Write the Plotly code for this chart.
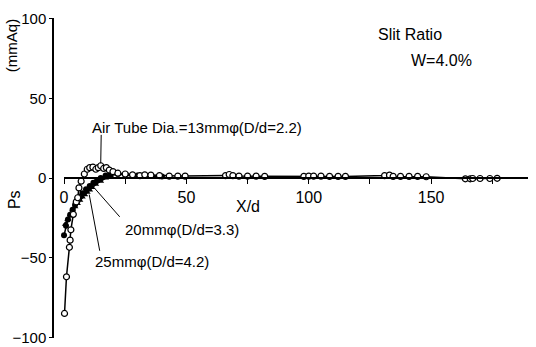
import plotly.graph_objects as go

# --- data ---
x13 = [0.2, 1.0, 2.2, 2.5, 2.8, 3.8, 5.0, 5.6, 6.1, 7.0, 8.3, 9.5, 10.5, 11.8, 13.0,
       14.0, 15.0, 16.2, 17.3, 18.5, 20.0, 22.0, 25.0, 28.0, 31.0, 33.0, 35.5, 39.0,
       43.0, 46.5, 49.5, 66.0, 67.5, 69.0, 71.5, 75.0, 78.5, 82.0, 98.0, 100.0, 102.0,
       105.0, 108.5, 112.0, 115.0, 131.0, 133.0, 134.5, 137.5, 141.0, 144.5, 148.0,
       164.0, 166.0, 167.0, 170.0, 174.0, 177.0]
y13 = [-85, -62, -43.5, -39, -32.5, -22.8, -15, -12.4, -6.2, -2, 2.5, 5.5, 6.5, 6.8, 5.5,
       6.5, 7.7, 6, 6.5, 5, 4, 3, 2.5, 2, 1.5, 2, 1.8, 1.5, 1.2, 1.2,
       1.2, 1.5, 2.2, 1.5, 1.2, 1.2, 1.2, 1, 1, 1.2, 1.2, 1.2, 1, 1, 1,
       1.5, 1.8, 1, 1, 1, 1, 0.8, -0.5, -0.5, -0.3, -0.3, -0.3, -0.2]

x20 = [0, 0.8, 1.6, 2.5, 3.5, 4.5, 5.5, 6.5, 7.5, 9, 10.5, 12, 13.5, 15, 17, 19, 22, 25, 30, 35, 40]
y20 = [-36, -30, -26, -23, -20, -17, -14.5, -12, -9.5, -7, -5, -3, -1.5, 0, 1.5, 2.5, 2.5, 2, 1.5, 1.2, 1]

x25 = [0.5, 1.5, 2.5, 3.5, 4.5, 5.5, 6.5, 7.5, 8.5, 9.5, 10.5, 11.5, 13, 15, 17, 19, 22, 26, 30, 35, 40]
y25 = [-29, -26, -23, -20, -18, -16, -14, -12, -10.5, -9, -7.5, -6, -4, -2, 0, 1.5, 2.5, 2, 1.5, 1.2, 1]

x_ticks = [0, 25, 50, 75, 100, 125, 150, 175]
x_ticklabels = ["0", "", "50", "", "100", "", "150", ""]
y_ticks = [100, 50, 0, -50, -100]
y_ticklabels = ["100", "50", "0", "\u221250", "\u2212100"]

FONT = "Liberation Sans, Arial, sans-serif"
PLOT_H = 347 - 18 - 9

fig = go.Figure()
fig.add_trace(go.Scatter(x=x25, y=y25, mode="lines+markers", cliponaxis=False,
                         line=dict(color="black", width=1.5),
                         marker=dict(symbol="triangle-up", size=6, color="black"),
                         name="25mm"))
fig.add_trace(go.Scatter(x=x20, y=y20, mode="lines+markers", cliponaxis=False,
                         line=dict(color="black", width=1.5),
                         marker=dict(symbol="circle", size=6, color="black"),
                         name="20mm"))
fig.add_trace(go.Scatter(x=x13, y=y13, mode="lines+markers", cliponaxis=False,
                         line=dict(color="black", width=1.5),
                         marker=dict(symbol="circle", size=6, color="white",
                                     line=dict(color="black", width=1.2)),
                         name="13mm"))

txt = dict(family=FONT, size=15, color="black")
ann = []
def label(x, y, t, xanchor="left", size=15):
    ann.append(dict(x=x, y=y, xref="x", yref="y", text=t, showarrow=False,
                    xanchor=xanchor, yanchor="middle", font=dict(txt, size=size)))

def leader(x0, y0, x1, y1):
    ann.append(dict(x=x1, y=y1, ax=x0, ay=y0, xref="x", yref="y", axref="x", ayref="y",
                    text="", showarrow=True, arrowhead=0, arrowwidth=1, arrowcolor="black"))

label(10.8, 32, "Air Tube Dia.=13mm\u03c6(D/d=2.2)")
label(24, -32, "20mm\u03c6(D/d=3.3)")
label(11.7, -52.4, "25mm\u03c6(D/d=4.2)")
label(127.4, 90, "Slit Ratio", size=16)
label(141, 73.5, "W=4.0%", size=16)
label(75, -17.6, "X/d", xanchor="center", size=16)

leader(15.2, 28, x13[16], y13[16] + 1.5)
leader(23.3, -25.3, 12.6, -6.6)
leader(14.7, -46.6, 10.3, -10.4)

ann.append(dict(x=-0.088, y=1 - 28 / PLOT_H, xref="paper", yref="paper", text="(mmAq)",
                textangle=-90, showarrow=False, font=txt, xanchor="center", yanchor="middle"))
ann.append(dict(x=-0.082, y=1 - 182 / PLOT_H, xref="paper", yref="paper", text="Ps",
                textangle=-90, showarrow=False, font=dict(txt, size=16),
                xanchor="center", yanchor="middle"))

fig.update_layout(
    width=536, height=347,
    margin=dict(l=53, r=8, t=18, b=9, autoexpand=False),
    paper_bgcolor="white", plot_bgcolor="white",
    showlegend=False,
    annotations=ann,
    font=txt,
    xaxis=dict(domain=[0.0232, 1], range=[0, 189.6], anchor="free", position=0.5,
               showline=True, linecolor="black", linewidth=1.5,
               ticks="outside", ticklen=5, tickwidth=1, tickcolor="black",
               tickvals=x_ticks, ticktext=x_ticklabels, showgrid=False, zeroline=False,
               tickfont=dict(txt, size=16), automargin=False),
    yaxis=dict(domain=[0, 1], range=[-100.4, 100.4], anchor="free", position=0,
               showline=True, linecolor="black", linewidth=1.5,
               ticks="outside", ticklen=3, tickwidth=1, tickcolor="black",
               tickvals=y_ticks, ticktext=y_ticklabels, showgrid=False, zeroline=False,
               tickfont=dict(txt, size=15), automargin=False,
               ticklabeloverflow="allow"),
)

fig.write_html("out.html", config={"displayModeBar": False},
               post_script="document.body.style.margin='0';document.body.style.overflow='hidden';")
